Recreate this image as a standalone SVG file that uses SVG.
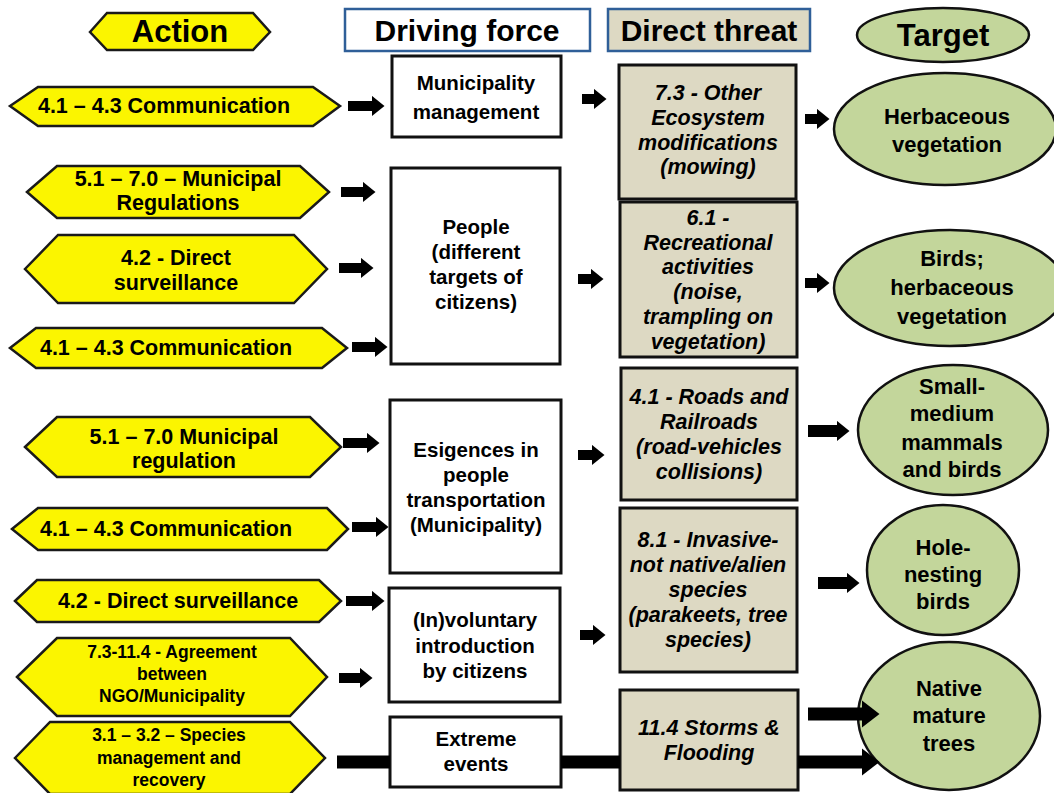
<svg xmlns="http://www.w3.org/2000/svg" width="1054" height="793" viewBox="0 0 1054 793">
<defs>
<style>
.bg{fill:#ffffff}
.hx{fill:#fbf500;stroke:#1a1a1a;stroke-width:2.5;stroke-linejoin:miter}
.df{fill:#ffffff;stroke:#111;stroke-width:3}
.dt{fill:#ddd9c3;stroke:#111;stroke-width:3}
.tg{fill:#c3d69b;stroke:#111;stroke-width:2.5}
.hdb{stroke:#2f5f98;stroke-width:2.5}
.h{font-family:"Liberation Sans",Arial,sans-serif;font-weight:bold;font-size:30px;text-anchor:middle;fill:#000}
.a{font-family:"Liberation Sans",Arial,sans-serif;font-weight:bold;font-size:21.5px;text-anchor:middle;fill:#000}
.as{font-family:"Liberation Sans",Arial,sans-serif;font-weight:bold;font-size:17.5px;text-anchor:middle;fill:#000}
.d{font-family:"Liberation Sans",Arial,sans-serif;font-weight:bold;font-size:20.5px;text-anchor:middle;fill:#000}
.t{font-family:"Liberation Sans",Arial,sans-serif;font-weight:bold;font-style:italic;font-size:21.5px;text-anchor:middle;fill:#000}
.g{font-family:"Liberation Sans",Arial,sans-serif;font-weight:bold;font-size:22px;text-anchor:middle;fill:#000}
.ar{stroke:#000;stroke-width:10;fill:none;marker-end:url(#ah)}
.arb{stroke:#000;stroke-width:13;fill:none;marker-end:url(#ahb)}
.bar{stroke:#000;stroke-width:13;fill:none}
</style>
<marker id="ah" markerUnits="userSpaceOnUse" markerWidth="13" markerHeight="21" refX="0.5" refY="10.5" orient="auto"><path d="M0,0 L13,10.5 L0,21 z" fill="#000"/></marker>
<marker id="ahb" markerUnits="userSpaceOnUse" markerWidth="18" markerHeight="28" refX="0.5" refY="14" orient="auto"><path d="M0,0 L18,14 L0,28 z" fill="#000"/></marker>
</defs>
<rect class="bg" x="0" y="0" width="1054" height="793"/>

<!-- headers -->
<g id="hdr-action"><polygon class="hx" points="90,32 107,13 253,13 270,32 253,50 107,50"/><text class="h" x="180" y="42" style="font-size:31px">Action</text></g>
<g id="hdr-driving"><rect class="df hdb" x="345" y="9" width="245" height="42"/><text class="h" x="467" y="41">Driving force</text></g>
<g id="hdr-threat"><rect class="dt hdb" x="608" y="9" width="202" height="42"/><text class="h" x="709" y="41">Direct threat</text></g>
<g id="hdr-target"><ellipse class="tg" cx="943" cy="35" rx="86" ry="27"/><text class="h" x="943" y="46" style="font-size:31px">Target</text></g>

<!-- actions -->
<g id="act1"><polygon class="hx" points="10,106 38,87 313,87 340,106 313,126 38,126"/><text class="a" x="164" y="113">4.1 – 4.3 Communication</text></g>
<g id="act2"><polygon class="hx" points="27,192 57,166 300,166 329,192 300,218 57,218"/><text class="a" x="178" y="186">5.1 – 7.0 – Municipal</text><text class="a" x="178" y="210">Regulations</text></g>
<g id="act3"><polygon class="hx" points="25,269 58,235 294,235 327,269 294,303 58,303"/><text class="a" x="176" y="265">4.2 - Direct</text><text class="a" x="176" y="290">surveillance</text></g>
<g id="act4"><polygon class="hx" points="10,348 36,328 322,328 347,348 322,368 36,368"/><text class="a" x="166" y="355">4.1 – 4.3 Communication</text></g>
<g id="act5"><polygon class="hx" points="25,447 57,417 310,417 341,447 310,477 57,477"/><text class="a" x="184" y="444">5.1 – 7.0 Municipal</text><text class="a" x="184" y="468">regulation</text></g>
<g id="act6"><polygon class="hx" points="12,529 38,508 327,508 348,529 327,550 38,550"/><text class="a" x="166" y="536">4.1 – 4.3 Communication</text></g>
<g id="act7"><polygon class="hx" points="15,601 37,580 319,580 341,601 319,622 37,622"/><text class="a" x="178" y="608">4.2 - Direct surveillance</text></g>
<g id="act8"><polygon class="hx" points="17,677 57,638 290,638 327,677 290,716 57,716"/><text class="as" x="172" y="658">7.3-11.4 - Agreement</text><text class="as" x="172" y="680">between</text><text class="as" x="172" y="702">NGO/Municipality</text></g>
<g id="act9"><polygon class="hx" points="15,758 50,722 290,722 325,758 290,794 50,794"/><text class="as" x="169" y="741">3.1 – 3.2 – Species</text><text class="as" x="169" y="764">management and</text><text class="as" x="169" y="786">recovery</text></g>

<!-- driving forces -->
<g id="df1"><rect class="df" x="392" y="56" width="169" height="81"/><text class="d" x="476" y="90">Municipality</text><text class="d" x="476" y="119">management</text></g>
<g id="df2"><rect class="df" x="391" y="168" width="169" height="196"/><text class="d" x="476" y="234">People</text><text class="d" x="476" y="259">(different</text><text class="d" x="476" y="284">targets of</text><text class="d" x="476" y="309">citizens)</text></g>
<g id="df3"><rect class="df" x="390" y="400" width="171" height="173"/><text class="d" x="476" y="457">Esigences in</text><text class="d" x="476" y="482">people</text><text class="d" x="476" y="507">transportation</text><text class="d" x="476" y="532">(Municipality)</text></g>
<g id="df4"><rect class="df" x="389" y="588" width="171" height="114"/><text class="d" x="475" y="627">(In)voluntary</text><text class="d" x="475" y="653">introduction</text><text class="d" x="475" y="678">by citizens</text></g>
<g id="df5"><rect class="df" x="390" y="717" width="171" height="70"/><text class="d" x="476" y="746">Extreme</text><text class="d" x="476" y="771">events</text></g>

<!-- direct threats -->
<g id="th1"><rect class="dt" x="619" y="65" width="177" height="134"/><text class="t" x="708" y="100">7.3 - Other</text><text class="t" x="708" y="125">Ecosystem</text><text class="t" x="708" y="150">modifications</text><text class="t" x="708" y="174">(mowing)</text></g>
<g id="th2"><rect class="dt" x="620" y="202" width="177" height="155"/><text class="t" x="708" y="225">6.1 -</text><text class="t" x="708" y="250">Recreational</text><text class="t" x="708" y="274">activities</text><text class="t" x="708" y="299">(noise,</text><text class="t" x="708" y="324">trampling on</text><text class="t" x="708" y="349">vegetation)</text></g>
<g id="th3"><rect class="dt" x="621" y="368" width="176" height="132"/><text class="t" x="709" y="404">4.1 - Roads and</text><text class="t" x="709" y="429">Railroads</text><text class="t" x="709" y="454">(road-vehicles</text><text class="t" x="709" y="479">collisions)</text></g>
<g id="th4"><rect class="dt" x="620" y="508" width="177" height="164"/><text class="t" x="708" y="547">8.1 - Invasive-</text><text class="t" x="708" y="572">not native/alien</text><text class="t" x="708" y="597">species</text><text class="t" x="708" y="622">(parakeets, tree</text><text class="t" x="708" y="647">species)</text></g>
<g id="th5"><rect class="dt" x="620" y="690" width="178" height="100"/><text class="t" x="709" y="735">11.4 Storms &amp;</text><text class="t" x="709" y="760">Flooding</text></g>

<!-- targets -->
<g id="tg1"><ellipse class="tg" cx="945" cy="129" rx="111" ry="56"/><text class="g" x="947" y="124">Herbaceous</text><text class="g" x="947" y="152">vegetation</text></g>
<g id="tg2"><ellipse class="tg" cx="950" cy="288" rx="116" ry="58"/><text class="g" x="952" y="266">Birds;</text><text class="g" x="952" y="295">herbaceous</text><text class="g" x="952" y="324">vegetation</text></g>
<g id="tg3"><ellipse class="tg" cx="953" cy="430" rx="95" ry="65"/><text class="g" x="952" y="394">Small-</text><text class="g" x="952" y="421">medium</text><text class="g" x="952" y="450">mammals</text><text class="g" x="952" y="477">and birds</text></g>
<g id="tg4"><ellipse class="tg" cx="943" cy="570" rx="76" ry="65"/><text class="g" x="943" y="555">Hole-</text><text class="g" x="943" y="582">nesting</text><text class="g" x="943" y="609">birds</text></g>
<g id="tg5"><ellipse class="tg" cx="949" cy="716" rx="91" ry="74"/><text class="g" x="949" y="696">Native</text><text class="g" x="949" y="723">mature</text><text class="g" x="949" y="751">trees</text></g>

<!-- connectors -->
<g id="connectors">
<line class="ar" x1="348" y1="106" x2="372" y2="106"/>
<line class="ar" x1="341" y1="192" x2="363" y2="192"/>
<line class="ar" x1="339" y1="268" x2="361" y2="268"/>
<line class="ar" x1="352" y1="347" x2="375" y2="347"/>
<line class="ar" x1="343" y1="443" x2="367" y2="443"/>
<line class="ar" x1="352" y1="527" x2="376" y2="527"/>
<line class="ar" x1="346" y1="601" x2="372" y2="601"/>
<line class="ar" x1="339" y1="678" x2="360" y2="678"/>
<line class="ar" x1="582" y1="99" x2="594" y2="99"/>
<line class="ar" x1="578" y1="279" x2="591" y2="279"/>
<line class="ar" x1="578" y1="455" x2="592" y2="455"/>
<line class="ar" x1="580" y1="635" x2="593" y2="635"/>
<line class="ar" x1="805" y1="119" x2="817" y2="119"/>
<line class="ar" x1="805" y1="283" x2="817" y2="283"/>
<line class="ar" x1="808" y1="431" x2="837" y2="431" style="stroke-width:12"/>
<line class="ar" x1="818" y1="583" x2="847" y2="583" style="stroke-width:12"/>
<line class="bar" x1="337" y1="762" x2="390" y2="762"/>
<line class="bar" x1="561" y1="762" x2="620" y2="762"/>
<line class="arb" x1="808" y1="714" x2="862" y2="714"/>
<line class="arb" x1="798" y1="762" x2="862" y2="762"/>
</g>
</svg>
